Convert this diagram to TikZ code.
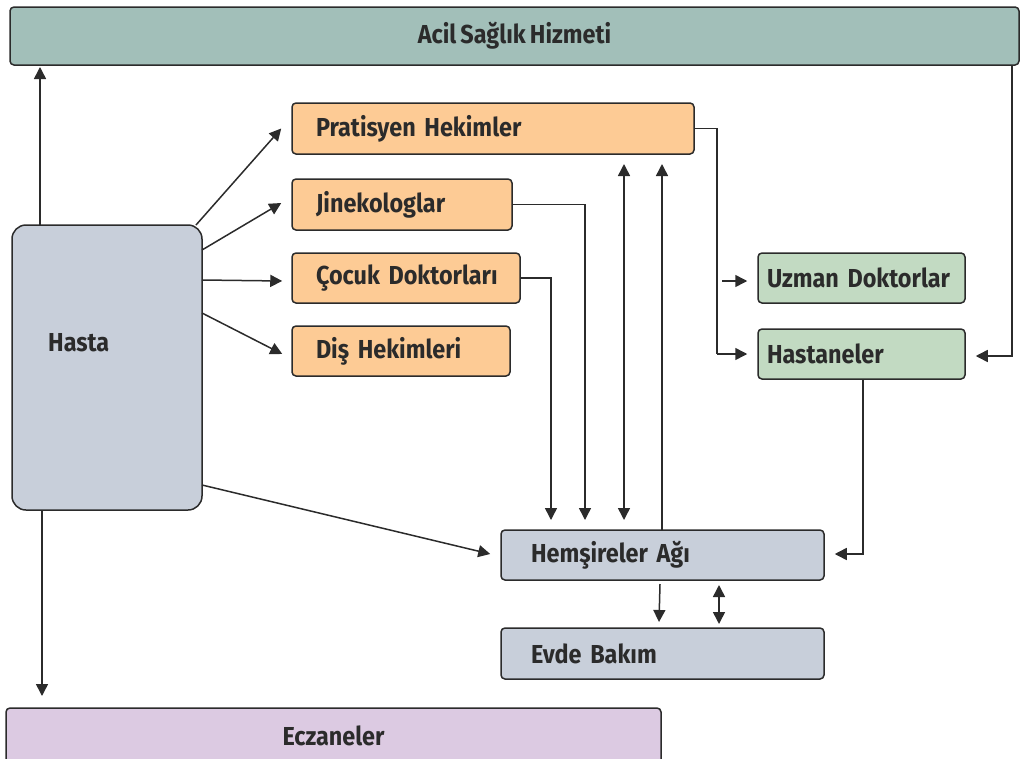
\documentclass[tikz,border=0pt]{standalone}
\usepackage{fontspec}
\setmainfont{Fira Sans}[FakeStretch=0.9, WordSpace=0.75]
\usetikzlibrary{arrows.meta}
\definecolor{teal}{HTML}{A2BFB9}
\definecolor{peach}{HTML}{FDCB95}
\definecolor{mint}{HTML}{C2DAC2}
\definecolor{slate}{HTML}{C8CFDA}
\definecolor{lilac}{HTML}{DCCAE2}
\definecolor{ink}{HTML}{2B2B2B}
\tikzset{
  label font/.style={font=\bfseries\fontsize{26}{29}\selectfont, text=ink},
  box/.style={draw=ink, line width=1.5pt, rounded corners=4pt, inner ysep=0pt,
    label font, align=left},
  tip/.style={Triangle[length=12pt,width=12pt]},
  conn/.style={draw=ink, line width=1.5pt, -{Triangle[length=12pt,width=12pt]}},
  line/.style={draw=ink, line width=1.5pt},
  both/.style={conn, {Triangle[length=12pt,width=12pt]}-{Triangle[length=12pt,width=12pt]}}
}
\begin{document}
\begin{tikzpicture}[x=1pt,y=-1pt]
\useasboundingbox (0,0) rectangle (1020,758);
% top and bottom bands
\node[box, fill=teal, minimum width=1009, minimum height=58, align=center] (acil) at (514.5,36) {Acil Sağlık Hizmeti};
\node[box, fill=lilac, minimum width=655, minimum height=56, align=center] (ecz) at (333.5,736) {Eczaneler};
% patient
\node[box, fill=slate, rounded corners=14pt, minimum width=190, minimum height=285] (hasta) at (107,367.5) {};
\node[label font, anchor=west, inner sep=0pt] (hastatxt) at (48,343) {Hasta};
% first-line physicians
\node[box, fill=peach, minimum height=51, inner xsep=24pt, text width=354pt] (prat) at (493,128.5) {Pratisyen Hekimler};
\node[box, fill=peach, minimum height=51, inner xsep=24pt, text width=172pt] (jine) at (402,204.5) {Jinekologlar};
\node[box, fill=peach, minimum height=50, inner xsep=24pt, text width=180pt] (cocuk) at (406,278) {\mbox{Çocuk Doktorları}};
\node[box, fill=peach, minimum height=50, inner xsep=24pt, text width=170pt] (dis) at (401,351) {Diş Hekimleri};
% specialists
\node[box, fill=mint, minimum height=50, inner xsep=9pt, text width=189pt] (uzman) at (861.5,278) {Uzman Doktorlar};
\node[box, fill=mint, minimum height=50, inner xsep=9pt, text width=189pt] (hast) at (861.5,354) {Hastaneler};
% nursing
\node[box, fill=slate, minimum height=50, inner xsep=30pt, text width=263pt] (hem) at (662.5,555) {Hemşireler Ağı};
\node[box, fill=slate, minimum height=51, inner xsep=30pt, text width=263pt] (evde) at (662.5,653.5) {Evde Bakım};
% free ends of connectors
\coordinate (a1) at (40,225);
\coordinate (a2) at (40,67);
\coordinate (e1) at (42,510);
\coordinate (e2) at (42,696);
\coordinate (u1) at (722,281);
% Hasta outgoing
\draw[conn] (a1) -- (a2);
\draw[conn] (e1) -- (e2);
\draw[conn] (196,225) -- ([xshift=-10pt]prat.west);
\draw[conn] (202,250) -- ([xshift=-10pt,yshift=1.5pt]jine.west);
\draw[conn] (202,280) -- ([xshift=-9pt,yshift=-3pt]cocuk.west);
\draw[conn] (202,313) -- ([xshift=-9pt,yshift=-3pt]dis.west);
\draw[conn] (202,485) -- ([xshift=-10pt,yshift=1pt]hem.west);
% Pratisyen to specialists
\draw[line] (prat.east) -| (717,354) coordinate (p1);
\draw[conn] (p1) -- ([xshift=-10pt]hast.west);
\draw[conn] (u1) -- ([xshift=-10pt]uzman.west |- u1);
% physicians down to nurses
\draw[conn] (jine.east) -| (585,520);
\draw[conn] (cocuk.east) -| (551,520);
\draw[both] (624,520) -- (624,164);
\draw[conn] (662,530) -- (662,164);
% emergency to hospitals
\draw[conn] (1012,65) |- ([xshift=10pt,yshift=-2pt]hast.east);
\draw[conn] (863,379) |- ([xshift=10pt,yshift=1pt]hem.east);
% nurses to home care
\draw[conn] (660,584) -- (659,622);
\draw[both] (719,585) -- (719,624);
\end{tikzpicture}
\end{document}
